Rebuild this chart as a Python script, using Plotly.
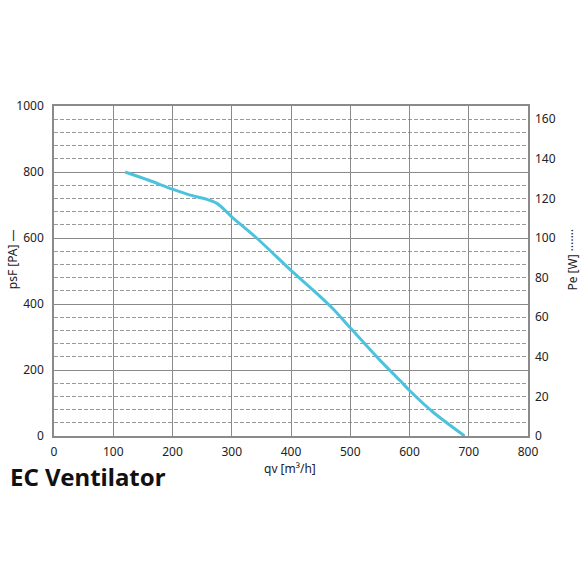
import plotly.graph_objects as go

# fan curve
qv = [120, 160, 200, 230, 257, 275, 291, 300, 342, 400, 443, 470, 500, 550, 584, 600, 640, 693]
psf = [800, 775, 748, 730, 718, 705, 680, 664, 600, 502, 433, 387, 328, 230, 168, 138, 72, 0]

x_ticks = [0, 100, 200, 300, 400, 500, 600, 700, 800]
y_ticks = [0, 200, 400, 600, 800, 1000]
pe_ticks = [0, 20, 40, 60, 80, 100, 120, 140, 160]

grid = "#8a8a8a"
font = "Noto Sans"

fig = go.Figure()
fig.add_trace(go.Scatter(
    x=qv, y=psf, mode="lines",
    line=dict(color="#4cc3dd", width=3, shape="spline", smoothing=0.8),
    showlegend=False, hoverinfo="skip"))
# empty trace so the right axis gets drawn
fig.add_trace(go.Scatter(x=[None], y=[None], yaxis="y2", showlegend=False))

fig.update_layout(
    width=580, height=580,
    margin=dict(l=54, r=52, t=106, b=144),
    paper_bgcolor="white", plot_bgcolor="white",
    font=dict(family=font, size=12, color="#222"),
    xaxis=dict(range=[0, 800], tickvals=x_ticks, showgrid=True, gridcolor=grid, gridwidth=1.4,
               showline=True, mirror=True, linecolor=grid, linewidth=1.6,
               ticks="", zeroline=False, tickfont=dict(size=12), ticklabelstandoff=4),
    yaxis=dict(range=[0, 1000], tickvals=y_ticks, showgrid=True, gridcolor=grid, gridwidth=1.4,
               showline=True, mirror=True, linecolor=grid, linewidth=1.6,
               ticks="", zeroline=False, tickfont=dict(size=12), ticklabelstandoff=6,
               minor=dict(dtick=40, showgrid=True, gridcolor="#999999", griddash="4px,2px", gridwidth=1)),
    yaxis2=dict(range=[0, 1000 / 6], tickvals=pe_ticks, overlaying="y", side="right",
                showgrid=False, zeroline=False, showline=False, ticks="",
                tickfont=dict(size=12), ticklabelstandoff=6),
    annotations=[
        dict(text="psF [PA] —", xref="paper", yref="paper", x=-0.087, y=0.535,
             xanchor="center", yanchor="middle",
             textangle=-90, showarrow=False, font=dict(size=12)),
        dict(text="Pe [W] ·······", xref="paper", yref="paper", x=1.093, y=0.535,
             xanchor="center", yanchor="middle",
             textangle=-90, showarrow=False, font=dict(size=12)),
        dict(text="qv [m³/h]", xref="paper", yref="paper", x=0.498, y=-0.097,
             xanchor="center", yanchor="middle", showarrow=False, font=dict(size=12)),
        dict(text="<b>EC Ventilator</b>", xref="paper", yref="paper", x=-0.095, y=-0.124,
             xanchor="left", yanchor="middle", showarrow=False, borderpad=0,
             font=dict(size=24, color="#111")),
    ],
)

# drop the default body margin so the 580px figure fills the window exactly
fig.write_html("out.html", config={"displayModeBar": False},
               post_script="document.body.style.margin='0';")
